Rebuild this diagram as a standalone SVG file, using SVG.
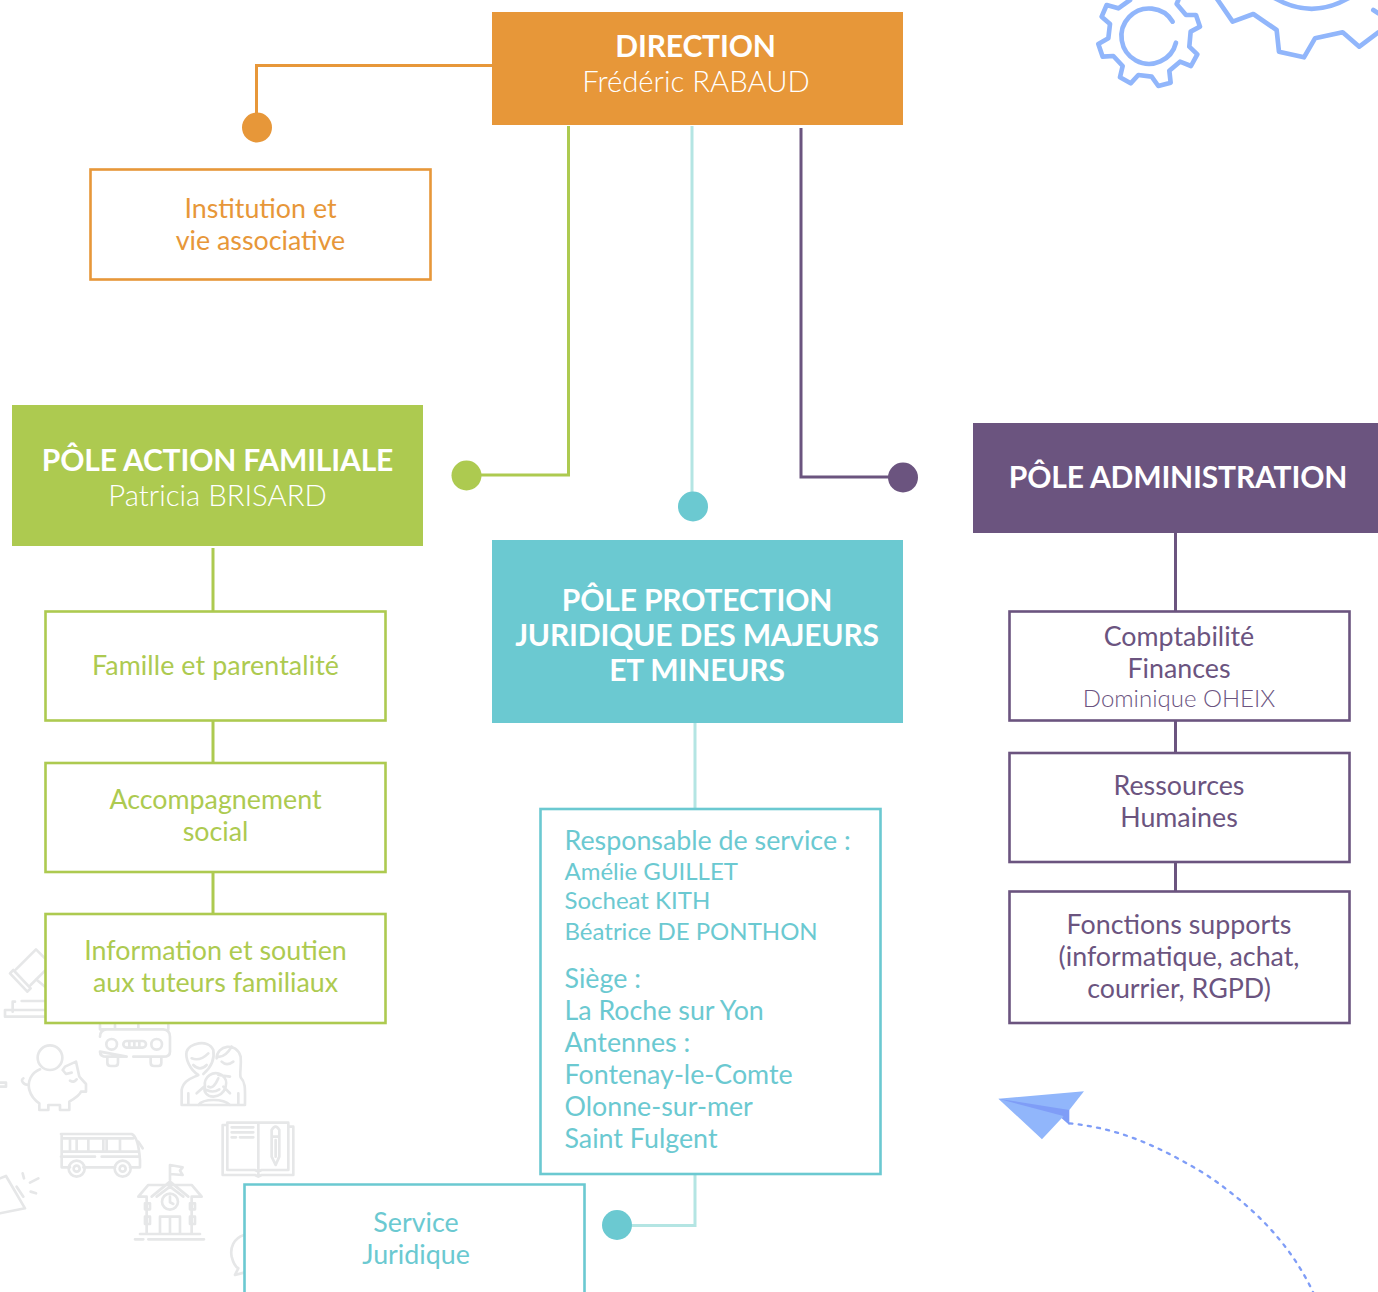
<svg xmlns="http://www.w3.org/2000/svg" width="1378" height="1292" viewBox="0 0 1378 1292">
<style>
text{font-family:Lato,"Carlito","Open Sans","Liberation Sans",sans-serif;text-anchor:middle}
.t{font-weight:700;font-size:30px;fill:#fff;letter-spacing:-.17px}
.s{font-weight:300;font-size:29.3px;fill:#fff}
.l{font-size:26.8px}
.m{font-size:24px}
.o{fill:#e79739}.g{fill:#adca50}.c{fill:#6bc9d1}.p{fill:#6b547f}
.box{fill:#fff;stroke-width:2.600}
.ln{fill:none;stroke-width:3}
.left{text-anchor:start}
.ic{fill:none;stroke:#e6e7e8;stroke-width:8;stroke-linejoin:round;stroke-linecap:round}
.gr{fill:none;stroke:#91b6fb;stroke-width:14;stroke-linejoin:round;stroke-linecap:round}
</style>
<rect width="1378" height="1292" fill="#fff"/>
<g id="decor-icons" transform="translate(0 930) scale(.3333)">
<path class="ic" d="M30 130L82 185L92 175L40 120ZM48 118L108 58L135 85M92 165L135 122M108 148L135 170M38 245V215H45M65 213H135M15 260V240H135M15 260H135"/>
<path class="ic" d="M300 285V298H325M345 285V298H395M415 285V298H490M505 285V298M300 320Q300 300 320 298H490Q510 300 510 320V365Q510 380 490 380H400M380 380H320Q300 380 300 365ZM322 383V398Q322 408 332 408H345Q354 408 354 398V383M452 383V398Q452 408 462 408H475Q484 408 484 398V383"/>
<circle class="ic" cx="335" cy="343" r="16"/><circle class="ic" cx="470" cy="343" r="16"/><rect class="ic" x="370" y="333" width="68" height="20" rx="10"/><path class="ic" d="M388 336V350M403 336V350M418 336V350"/>
<circle class="ic" cx="150" cy="383" r="37"/>
<path class="ic" d="M120 418C92 430 82 455 88 480C95 505 110 515 118 520V540H145V525H180V540H208V515C225 505 240 495 243 485H258V462L238 440L228 395L195 410L188 420L198 432L215 428M70 445C60 450 70 465 85 465M0 458H18V470H0M210 452Q222 460 230 448"/>
<path class="ic" d="M545 525V480C550 450 575 445 595 435C570 420 555 385 560 365C565 340 625 325 640 360C645 390 630 415 610 432M575 385Q600 395 625 370M580 405Q600 425 620 405M650 385C650 345 710 335 722 380C725 410 718 430 722 442C738 458 735 480 735 525H545M650 380Q675 385 695 350M665 395Q680 410 700 395M655 435L690 440M615 470C610 440 640 420 665 435C690 450 680 495 640 500C620 500 610 485 615 470M625 470Q640 480 655 445M620 480Q640 490 658 478M590 490L612 470M690 490L670 470M595 525C610 505 670 505 690 525M565 490V525M715 490V525"/>
<path class="ic" d="M183 612H395Q415 620 420 690V712H390M345 712H250M210 712H185V612M183 680H285M305 680H418M188 625H400M210 625V665M230 625V665M265 625V665M310 625V665M320 625V665M360 625V665M185 665H415"/>
<circle class="ic" cx="230" cy="716" r="24"/><circle class="ic" cx="368" cy="716" r="24"/><circle class="ic" cx="230" cy="716" r="9"/><circle class="ic" cx="368" cy="716" r="9"/>
<path class="ic" d="M415 635L428 655"/>
<path class="ic" d="M682 585H668V735H765L775 740L785 735H880V590H865M775 735V578H865V720H785L775 725L765 720H682V578H775M695 592H760M695 607H760M695 622H708M720 622H760M815 600V680L827 705L838 680V600Q827 580 815 600M815 620H838M827 630V680"/>
<path class="ic" d="M0 745L18 738L75 835L0 850M50 770L70 800M68 730L72 745M90 758L115 745M92 785L108 790"/>
<path class="ic" d="M510 750V705L548 712L540 722L548 735L510 732M415 800L445 765H575L605 800H575V912H440V800H415M455 800L510 755L565 800M470 800L510 770L550 800M480 912V860H540V912M510 860V912M405 928H430M445 928H612M420 912H600"/>
<circle class="ic" cx="510" cy="815" r="24"/>
<path class="ic" d="M510 800V817L520 822M435 820H450V838H435ZM570 820H585V838H570ZM435 860H450V882H435ZM570 860H585V882H570Z"/>
<path class="ic" d="M732 915C700 925 690 955 695 980C700 1000 705 1010 715 1015L705 1035L732 1028"/>
</g>
<g id="decor-gears" transform="translate(1080 0) scale(.3333)">
<path class="gr" d="M150 0L115 25L80 15L65 50L90 72L85 115L55 132L68 170L100 168L128 198L120 232L152 250L175 225L215 230L235 258L272 248L268 212L300 185L333 198L352 163L328 140L332 95L360 80L348 45L318 45L290 12L295 0"/>
<path class="gr" d="M278 65A83 83 0 1 0 288 128"/>
<path class="gr" d="M410 -5L458 65L520 42L590 90L597 155L672 172L705 115L788 97L838 140L895 97"/>
<path class="gr" d="M585 -5Q695 58 805 -5M880 30L895 40"/>
</g>
<g id="decor-plane" transform="translate(980 1070) scale(.3333)">
<path d="M268 160C420 175 540 230 680 315C820 410 930 520 1000 668" fill="none" stroke="#7f9df7" stroke-width="7" stroke-dasharray="9 19" stroke-linecap="round"/>
<path d="M55 86L312 64L268 120L245 145L186 208Z" fill="#91b6fb"/>
<path d="M55 86L268 120V165L245 145L250 138Z" fill="#7f9df7"/>
</g>
<g id="connectors">
<path class="ln" stroke="#e79739" d="M492 65.500H256.500V115"/>
<path class="ln" stroke="#adca50" d="M568.500 126V475H480"/>
<path class="ln" stroke="#b4e5e3" d="M692 126V495"/>
<path class="ln" stroke="#6b547f" d="M801 128V477H890"/>
<path class="ln" stroke="#adca50" d="M213 548V612M213 720V763M213 872V914"/>
<path class="ln" stroke="#b4e5e3" d="M695 723V809M695 1174V1225.500H630"/>
<path class="ln" stroke="#6b547f" d="M1175.500 533V611M1175.500 721V753M1175.500 862V891"/>
<circle class="o" cx="257" cy="127.500" r="15"/>
<circle class="g" cx="466.500" cy="475.500" r="15"/>
<circle class="c" cx="693" cy="506.500" r="15"/>
<circle class="p" cx="903" cy="477.500" r="15"/>
<circle class="c" cx="617" cy="1225" r="15"/>
</g>
<g id="direction"><rect class="o" x="492" y="12" width="411" height="113"/><text class="t" x="695.500" y="57">DIRECTION</text><text class="s" x="696" y="92">Frédéric RABAUD</text></g>
<g id="institution"><rect class="box" stroke="#e79739" x="90.500" y="169.500" width="340" height="110"/><text class="l o" x="260.500" y="218">Institution et</text><text class="l o" x="260.500" y="250">vie associative</text></g>
<g id="pole-familiale"><rect class="g" x="12" y="405" width="411" height="141"/><text class="t" x="217.500" y="471">PÔLE ACTION FAMILIALE</text><text class="s" x="217.500" y="506">Patricia BRISARD</text></g>
<g id="famille"><rect class="box" stroke="#adca50" x="45.500" y="611.500" width="340" height="109"/><text class="l g" x="215.500" y="675" letter-spacing=".1">Famille et parentalité</text></g>
<g id="accompagnement"><rect class="box" stroke="#adca50" x="45.500" y="763" width="340" height="109"/><text class="l g" x="215.500" y="809">Accompagnement</text><text class="l g" x="215.500" y="841">social</text></g>
<g id="information"><rect class="box" stroke="#adca50" x="45.500" y="914" width="340" height="109"/><text class="l g" x="215.500" y="960">Information et soutien</text><text class="l g" x="215.500" y="992">aux tuteurs familiaux</text></g>
<g id="pole-protection"><rect class="c" x="492" y="540" width="411" height="183"/><text class="t" x="697" y="611">PÔLE PROTECTION</text><text class="t" x="697" y="646">JURIDIQUE DES MAJEURS</text><text class="t" x="697" y="681">ET MINEURS</text></g>
<g id="responsable"><rect class="box" stroke="#6bc9d1" x="540.500" y="809" width="340" height="365"/>
<text class="l c left" x="564.500" y="850">Responsable de service :</text>
<text class="m c left" x="564.500" y="880">Amélie GUILLET</text>
<text class="m c left" x="564.500" y="909">Socheat KITH</text>
<text class="m c left" x="564.500" y="940">Béatrice DE PONTHON</text>
<text class="l c left" x="564.500" y="988">Siège :</text>
<text class="l c left" x="564.500" y="1020">La Roche sur Yon</text>
<text class="l c left" x="564.500" y="1052">Antennes :</text>
<text class="l c left" x="564.500" y="1084">Fontenay-le-Comte</text>
<text class="l c left" x="564.500" y="1116">Olonne-sur-mer</text>
<text class="l c left" x="564.500" y="1148">Saint Fulgent</text></g>
<g id="service-juridique"><path class="box" stroke="#6bc9d1" d="M244.500 1292V1184.500H584.500V1292"/><text class="l c" x="416" y="1232">Service</text><text class="l c" x="416" y="1264">Juridique</text></g>
<g id="pole-administration"><rect class="p" x="973" y="423" width="405" height="110"/><text class="t" x="1178" y="488">PÔLE ADMINISTRATION</text></g>
<g id="comptabilite"><rect class="box" stroke="#6b547f" x="1009.500" y="611.500" width="340" height="109"/><text class="l p" x="1179" y="646">Comptabilité</text><text class="l p" x="1179" y="678">Finances</text><text font-size="24" font-weight="300" class="p" x="1179" y="707">Dominique OHEIX</text></g>
<g id="ressources"><rect class="box" stroke="#6b547f" x="1009.500" y="753" width="340" height="109"/><text class="l p" x="1179" y="795">Ressources</text><text class="l p" x="1179" y="827">Humaines</text></g>
<g id="fonctions"><rect class="box" stroke="#6b547f" x="1009.500" y="891.500" width="340" height="131.500"/><text class="l p" x="1179" y="934">Fonctions supports</text><text class="l p" x="1179" y="966">(informatique, achat,</text><text class="l p" x="1179" y="998">courrier, RGPD)</text></g>
</svg>
